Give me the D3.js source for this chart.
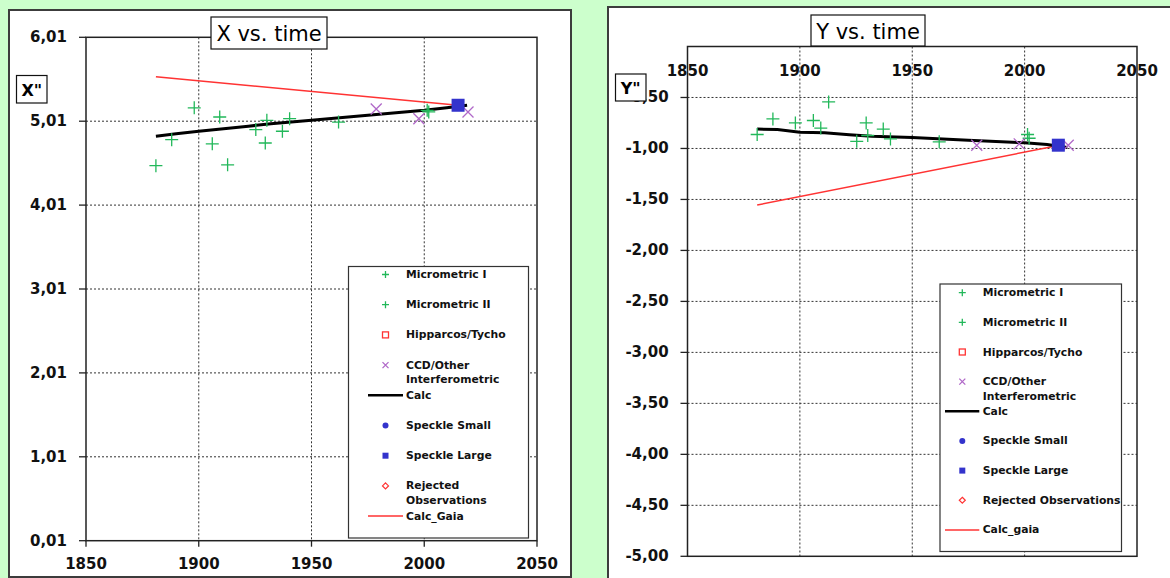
<!DOCTYPE html>
<html><head><meta charset="utf-8">
<script src="https://cdn.jsdelivr.net/npm/d3@7"></script>
<style>body{margin:0;background:#ccffcc;overflow:hidden}svg{display:block}</style>
</head><body>
<svg id="c" width="1170" height="578"></svg>
<script>
// ---------- data ----------
const microYears = [1881, 1888, 1898, 1906, 1909.3, 1912.8, 1925.3, 1929.5, 1930.2, 1937.1, 1940.3, 1962, 2001.3, 2002];
const microX = [4.48, 4.79, 5.17, 4.74, 5.06, 4.49, 4.91, 4.75, 5.02, 4.89, 5.04, 5.00, 5.14, 5.12];
const microY = [-0.863, -0.71, -0.75, -0.726, -0.80, -0.544, -0.93, -0.75, -0.873, -0.81, -0.906, -0.935, -0.863, -0.90];

const ccdYears = [1978.7, 1997.6, 2019.4];
const ccdX = [5.155, 5.04, 5.12];
const ccdY = [-0.968, -0.955, -0.968];

const speckleLargeYears = [2015];
const speckleLargeX = [5.20];
const speckleLargeY = [-0.968];

const calcYears = [1881, 1890, 1900, 1911, 1922, 1932, 1950, 1975, 2000, 2010, 2019];
const calcX = [4.83, 4.86, 4.89, 4.92, 4.95, 4.98, 5.02, 5.08, 5.14, 5.17, 5.20];
const calcY = [-0.81, -0.815, -0.84, -0.847, -0.865, -0.88, -0.893, -0.92, -0.945, -0.962, -0.99];

const gaiaYears = [1881, 2015];
const gaiaX = [5.54, 5.20];
const gaiaY = [-1.555, -0.97];

const xTicks = [1850, 1900, 1950, 2000, 2050];
const xTicksLeft = [0.01, 1.01, 2.01, 3.01, 4.01, 5.01, 6.01];
const yTicksRight = [-5.0, -4.5, -4.0, -3.5, -3.0, -2.5, -2.0, -1.5, -1.0, -0.5];

const legendLeft = [["Micrometric I"], ["Micrometric II"], ["Hipparcos/Tycho"], ["CCD/Other", "Interferometric"], ["Calc"], ["Speckle Small"], ["Speckle Large"], ["Rejected", "Observations"], ["Calc_Gaia"]];
const legendRight = [["Micrometric I"], ["Micrometric II"], ["Hipparcos/Tycho"], ["CCD/Other", "Interferometric"], ["Calc"], ["Speckle Small"], ["Speckle Large"], ["Rejected Observations"], ["Calc_gaia"]];
const legendKinds = ["plus", "plus", "hsquare", "cross", "line", "circle", "square", "diamond", "redline"];

// ---------- styles ----------
const GREEN = "#22b85a", PURPLE = "#b068c8", BLUE = "#3333cc", RED = "#ff3333";
const fmt = v => d3.format(".2f")(v).replace(".", ",").replace("\u2212", "-");
const svg = d3.select("#c");

function marker(g, kind, x, y, s) {
  if (kind === "plus") {
    g.append("path").attr("d", `M${x - s},${y}H${x + s}M${x},${y - s}V${y + s}`)
      .attr("stroke", GREEN).attr("stroke-width", 1.3).attr("fill", "none");
  } else if (kind === "cross") {
    g.append("path").attr("d", `M${x - s},${y - s}L${x + s},${y + s}M${x - s},${y + s}L${x + s},${y - s}`)
      .attr("stroke", PURPLE).attr("stroke-width", 1.3).attr("fill", "none");
  } else if (kind === "square") {
    g.append("rect").attr("x", x - s).attr("y", y - s).attr("width", 2 * s).attr("height", 2 * s).attr("fill", BLUE);
  } else if (kind === "hsquare") {
    g.append("rect").attr("x", x - s).attr("y", y - s).attr("width", 2 * s).attr("height", 2 * s)
      .attr("fill", "white").attr("stroke", RED).attr("stroke-width", 1.3);
  } else if (kind === "circle") {
    g.append("circle").attr("cx", x).attr("cy", y).attr("r", s).attr("fill", BLUE);
  } else if (kind === "diamond") {
    g.append("path").attr("d", `M${x},${y - s}L${x + s},${y}L${x},${y + s}L${x - s},${y}Z`)
      .attr("fill", "white").attr("stroke", RED).attr("stroke-width", 1.2);
  }
}

function drawPanel(cfg) {
  const g = svg.append("g");
  // panel frame
  g.append("rect").attr("x", cfg.frame[0]).attr("y", cfg.frame[1]).attr("width", cfg.frame[2]).attr("height", cfg.frame[3])
    .attr("fill", "white").attr("stroke", "#3c3c3c").attr("stroke-width", 2);

  const x = d3.scaleLinear().domain([1850, 2050]).range([cfg.px0, cfg.px1]);
  const y = d3.scaleLinear().domain(cfg.yDomain).range([cfg.pyBot, cfg.pyTop]);

  // x labels
  const xLab = g.append("g").attr("font-family", "DejaVu Sans").attr("font-weight", "bold").attr("font-size", 15)
    .attr("text-anchor", "middle").attr("dominant-baseline", "central").attr("fill", "#111");
  xTicks.forEach(t => xLab.append("text").attr("x", x(t)).attr("y", cfg.xLabelY).text(t));

  // y labels
  const yLab = g.append("g").attr("font-family", "DejaVu Sans").attr("font-weight", "bold").attr("font-size", 15)
    .attr("text-anchor", cfg.yAnchor).attr("dominant-baseline", "central").attr("fill", "#111");
  cfg.yTicks.forEach(t => yLab.append("text").attr("x", cfg.yLabelX).attr("y", y(t)).text(fmt(t)));

  // gridlines
  const grid = g.append("g").attr("stroke", "#333").attr("stroke-width", 1).attr("stroke-dasharray", "2,2");
  xTicks.slice(1, -1).forEach(t => grid.append("line").attr("x1", x(t)).attr("x2", x(t)).attr("y1", cfg.pyTop).attr("y2", cfg.pyBot));
  cfg.yTicks.filter(t => y(t) > cfg.pyTop + 2 && y(t) < cfg.pyBot - 2)
    .forEach(t => grid.append("line").attr("x1", cfg.px0).attr("x2", cfg.px1).attr("y1", y(t)).attr("y2", y(t)));

  // ticks
  const tk = g.append("g").attr("stroke", "#222").attr("stroke-width", 1.3);
  cfg.yTicks.forEach(t => tk.append("line").attr("x1", cfg.px0 - 7).attr("x2", cfg.px0).attr("y1", y(t)).attr("y2", y(t)));
  if (cfg.xTicksDown) xTicks.forEach(t => tk.append("line").attr("x1", x(t)).attr("x2", x(t)).attr("y1", cfg.pyBot).attr("y2", cfg.pyBot + 6));

  // plot border
  g.append("rect").attr("x", cfg.px0).attr("y", cfg.pyTop).attr("width", cfg.px1 - cfg.px0).attr("height", cfg.pyBot - cfg.pyTop)
    .attr("fill", "none").attr("stroke", "#222").attr("stroke-width", 1.5);

  // lines
  const line = d3.line().x(d => x(d[0])).y(d => y(d[1]));
  g.append("path").datum(gaiaYears.map((t, i) => [t, cfg.gaia[i]])).attr("d", line)
    .attr("fill", "none").attr("stroke", RED).attr("stroke-width", 1.5);
  g.append("path").datum(calcYears.map((t, i) => [t, cfg.calc[i]])).attr("d", line)
    .attr("fill", "none").attr("stroke", "#000").attr("stroke-width", 3);

  // markers
  microYears.forEach((t, i) => marker(g, "plus", x(t), y(cfg.micro[i]), 6.5));
  ccdYears.forEach((t, i) => marker(g, "cross", x(t), y(cfg.ccd[i]), 5.5));
  speckleLargeYears.forEach((t, i) => marker(g, "square", x(t), y(cfg.speckle[i]), 6.5));

  // legend
  const L = cfg.legend;
  g.append("rect").attr("x", L.x0).attr("y", L.y0).attr("width", L.x1 - L.x0).attr("height", L.y1 - L.y0)
    .attr("fill", "white").attr("stroke", "#333").attr("stroke-width", 1.2);
  cfg.legendLabels.forEach((lab, i) => {
    const yy = L.first + i * L.step;
    const kind = legendKinds[i];
    if (kind === "line" || kind === "redline") {
      g.append("line").attr("x1", L.lineX0).attr("x2", L.lineX1).attr("y1", yy).attr("y2", yy)
        .attr("stroke", kind === "line" ? "#000" : RED).attr("stroke-width", kind === "line" ? 2.5 : 1.5);
    } else {
      marker(g, kind, L.symX, yy, kind === "plus" ? 3.5 : 3);
    }
    lab.forEach((s, j) => g.append("text").attr("x", L.textX).attr("y", yy + j * 14.5)
      .attr("font-family", "DejaVu Sans").attr("font-weight", "bold").attr("font-size", 10.8)
      .attr("dominant-baseline", "central").attr("fill", "#111").text(s));
  });

  // title box
  const T = cfg.title;
  g.append("rect").attr("x", T.x0).attr("y", T.y0).attr("width", T.x1 - T.x0).attr("height", T.y1 - T.y0)
    .attr("fill", "white").attr("stroke", "#111").attr("stroke-width", 1.2);
  g.append("text").attr("x", (T.x0 + T.x1) / 2).attr("y", (T.y0 + T.y1) / 2 + 1).attr("text-anchor", "middle")
    .attr("dominant-baseline", "central").attr("font-family", "DejaVu Sans").attr("font-size", 21).attr("fill", "#000").text(T.text);

  // axis label box
  const A = cfg.axisLabel;
  g.append("rect").attr("x", A.x0).attr("y", A.y0).attr("width", A.x1 - A.x0).attr("height", A.y1 - A.y0)
    .attr("fill", "white").attr("stroke", "#111").attr("stroke-width", 1.2);
  g.append("text").attr("x", (A.x0 + A.x1) / 2).attr("y", (A.y0 + A.y1) / 2 + 1).attr("text-anchor", "middle")
    .attr("dominant-baseline", "central").attr("font-family", "DejaVu Sans").attr("font-weight", "bold").attr("font-size", 16).attr("fill", "#000").text(A.text);
}

drawPanel({
  frame: [9, 10, 562, 567],
  px0: 86, px1: 537, pyTop: 37.3, pyBot: 540.7,
  yDomain: [0.01, 6.01], yTicks: xTicksLeft,
  xLabelY: 564, xTicksDown: true, yLabelX: 67, yAnchor: "end",
  micro: microX, ccd: ccdX, speckle: speckleLargeX, calc: calcX, gaia: gaiaX,
  legendLabels: legendLeft,
  legend: { x0: 348.5, y0: 266.5, x1: 528.5, y1: 538, first: 274.5, step: 30.2, symX: 385.5, textX: 406, lineX0: 368, lineX1: 403 },
  title: { x0: 211, y0: 17, x1: 327, y1: 49, text: "X vs. time" },
  axisLabel: { x0: 16.5, y0: 75.5, x1: 47, y1: 103, text: 'X"' }
});

drawPanel({
  frame: [608, 7, 580, 590],
  px0: 687.5, px1: 1137, pyTop: 46.5, pyBot: 556.3,
  yDomain: [-5, 0], yTicks: yTicksRight,
  xLabelY: 70.7, xTicksDown: false, yLabelX: 647, yAnchor: "middle",
  micro: microY, ccd: ccdY, speckle: speckleLargeY, calc: calcY, gaia: gaiaY,
  legendLabels: legendRight,
  legend: { x0: 940, y0: 284, x1: 1121.5, y1: 551.5, first: 292.7, step: 29.65, symX: 962.3, textX: 982.7, lineX0: 945, lineX1: 979.3 },
  title: { x0: 811, y0: 15, x1: 925, y1: 46, text: "Y vs. time" },
  axisLabel: { x0: 615.5, y0: 74, x1: 646, y1: 101, text: 'Y"' }
});
</script>
</body></html>
